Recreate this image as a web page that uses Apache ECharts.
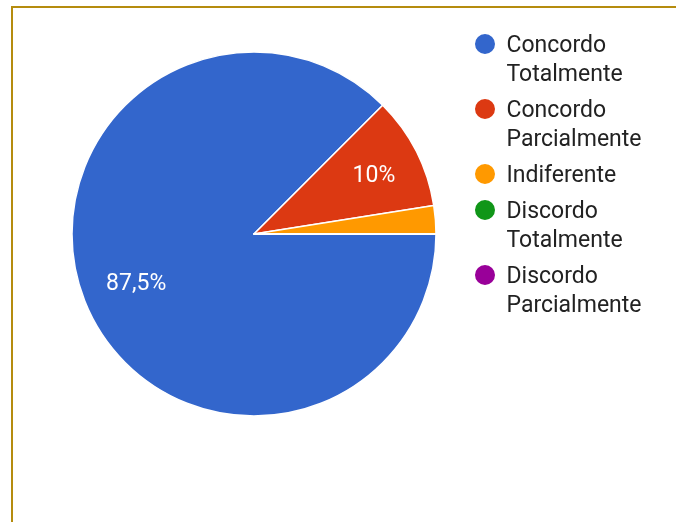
<!DOCTYPE html>
<html>
<head>
<meta charset="utf-8">
<script src="https://cdn.jsdelivr.net/npm/echarts@6/dist/echarts.min.js"></script>
<style>
  html, body { margin: 0; padding: 0; background: #fff; }
  #frame {
    position: absolute; left: 11px; top: 6px; width: 700px; height: 560px;
    border-top: 2px solid #b58c0e; border-left: 2px solid #b58c0e;
  }
  #chart { position: absolute; left: 0; top: 0; width: 676px; height: 522px; }
</style>
</head>
<body>
<div id="frame"></div>
<div id="chart"></div>
<script>
// Survey answers and their share of responses (%)
const categories = [
  'Concordo Totalmente',
  'Concordo Parcialmente',
  'Indiferente',
  'Discordo Totalmente',
  'Discordo Parcialmente'
];
const shares = [87.5, 10, 2.5, 0, 0];
const colors = ['#3366cc', '#dc3912', '#ff9900', '#109618', '#990099'];

// Small per-slice label padding [top, right, bottom, left] to fine-tune placement
const labelPadding = [[0, 0, 2, 11], [6, 0, 0, 2], [0, 0, 0, 0], [0, 0, 0, 0], [0, 0, 0, 0]];

const pieData = categories.map((name, i) => ({ name: name, value: shares[i] }));
const labelData = categories.map((name, i) => ({
  name: name,
  value: shares[i],
  label: { padding: labelPadding[i] }
}));

const chart = echarts.init(document.getElementById('chart'), null, { renderer: 'canvas' });

const fontFamily = 'Roboto, "Noto Sans", sans-serif';

// Legend: one entry per answer, stacked from the top.
// Two-word names wrap onto a second line, with the first line level with the icon.
const LINE_H = 29;
const ITEM_GAP = 7;
const LEGEND_FIRST_Y = 44;
const TEXT_NUDGE = 5;   // extra top padding -> text sits 2.5px lower than the icon centre
const legends = [];
let rowY = LEGEND_FIRST_Y;
categories.forEach(name => {
  const lines = name.split(' ').length;
  const pad = (lines - 1) * LINE_H + TEXT_NUDGE;
  const boxH = lines * LINE_H + pad;
  legends.push({
    orient: 'vertical',
    left: 473,
    top: rowY - boxH / 2,
    padding: 0,
    icon: 'circle',
    itemWidth: 33,
    itemHeight: 22,
    selectedMode: false,
    data: [{ name: name, textStyle: { padding: [pad, 0, 0, 0] } }],
    formatter: n => n.replace(' ', '\n'),
    textStyle: {
      fontFamily: fontFamily,
      fontSize: 23,
      lineHeight: LINE_H,
      color: '#222222',
      rich: { t: {} }
    }
  });
  rowY += lines * LINE_H + ITEM_GAP;
});

chart.setOption({
  animation: false,
  color: colors,
  legend: legends,
  series: [
    {
      type: 'pie',
      center: [254, 234],
      radius: [0, 182],
      startAngle: 0,
      clockwise: true,
      silent: true,
      label: { show: false },
      labelLine: { show: false },
      itemStyle: { borderColor: '#ffffff', borderWidth: 1.5 },
      emphasis: { disabled: true },
      data: pieData
    },
    {
      // percentage labels placed part-way out along each slice
      type: 'pie',
      center: [254, 234],
      radius: [79, 182],
      startAngle: 0,
      clockwise: true,
      silent: true,
      itemStyle: { color: 'rgba(0,0,0,0)' },
      labelLine: { show: false },
      emphasis: { disabled: true },
      label: {
        show: true,
        position: 'inside',
        color: '#ffffff',
        fontFamily: fontFamily,
        fontSize: 23,
        rich: { v: {} },
        formatter: p => p.value >= 5 ? String(p.value).replace('.', ',') + '%' : ''
      },
      data: labelData
    }
  ]
});
</script>
</body>
</html>
